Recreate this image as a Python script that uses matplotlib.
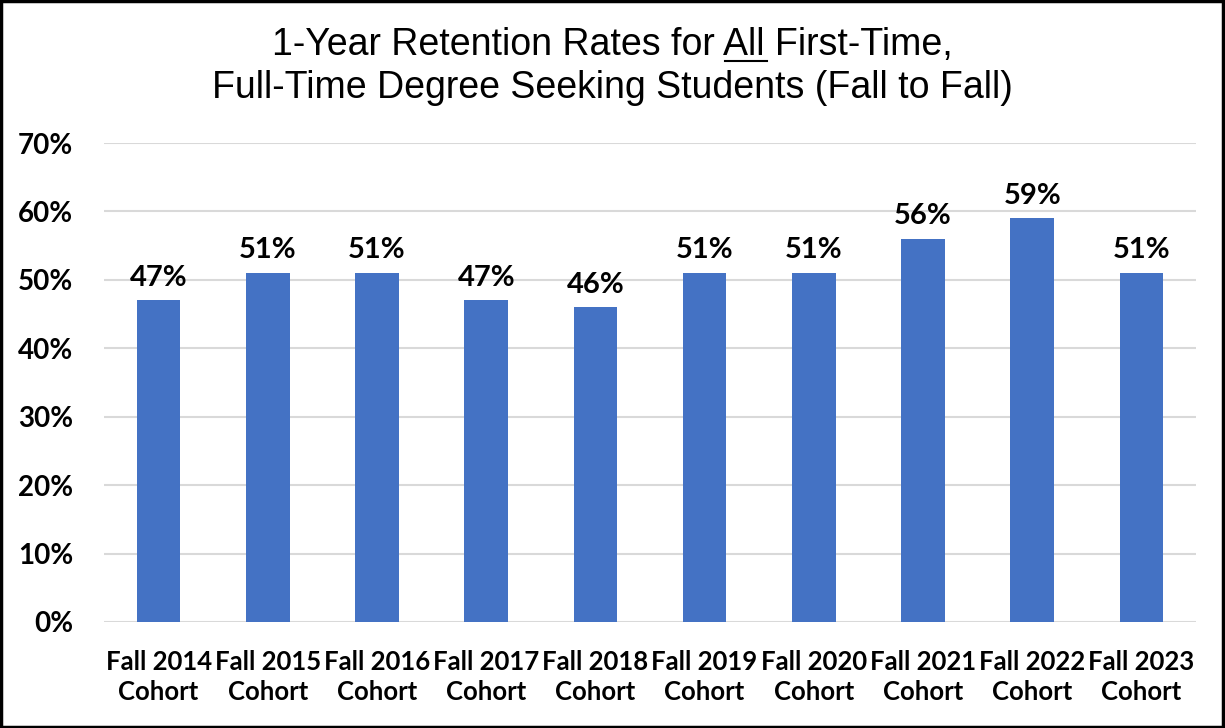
import matplotlib
matplotlib.use('Agg')
import matplotlib.pyplot as plt
from matplotlib.patches import Rectangle

cohorts = ['Fall 2014\nCohort', 'Fall 2015\nCohort', 'Fall 2016\nCohort', 'Fall 2017\nCohort',
           'Fall 2018\nCohort', 'Fall 2019\nCohort', 'Fall 2020\nCohort', 'Fall 2021\nCohort',
           'Fall 2022\nCohort', 'Fall 2023\nCohort']
rates = [47, 51, 51, 47, 46, 51, 51, 56, 59, 51]
yticks = [0, 10, 20, 30, 40, 50, 60, 70]

BAR = '#4472C4'
LABEL_FONT = ['Lato', 'DejaVu Sans']
TITLE_FONT = ['Liberation Sans', 'DejaVu Sans']

fig = plt.figure(figsize=(12.25, 7.28), dpi=100)
ax = fig.add_axes([104 / 1225, 106 / 728, 1092 / 1225, 479 / 728])

x = list(range(len(rates)))
ax.bar(x, rates, width=0.4, color=BAR, zorder=3)
for xi, v in zip(x, rates):
    ax.text(xi, v + 1.4, f'{v}%', ha='center', va='bottom', fontsize=21,
            fontweight='bold', family=LABEL_FONT)

ax.set_xlim(-0.5, len(rates) - 0.5)
ax.set_ylim(0, 70)
ax.set_yticks(yticks)
ax.set_yticklabels([f'{t}%' for t in yticks], fontsize=20, fontweight='bold', family=LABEL_FONT)
ax.set_xticks(x)
ax.set_xticklabels(cohorts, fontsize=18.5, fontweight='bold', family=LABEL_FONT, linespacing=1.3)
ax.tick_params(axis='both', length=0)
ax.tick_params(axis='y', pad=22)
ax.tick_params(axis='x', pad=20)
ax.grid(axis='y', color='#d9d9d9', linewidth=1.5, zorder=0)
for s in ax.spines.values():
    s.set_visible(False)

# title, with "All" underlined
line1 = '1-Year Retention Rates for All First-Time,'
t1 = fig.text(0.5, 1 - 45 / 728, line1, ha='center', va='center', fontsize=27, family=TITLE_FONT)
fig.text(0.5, 1 - 88 / 728, 'Full-Time Degree Seeking Students (Fall to Fall)',
         ha='center', va='center', fontsize=27, family=TITLE_FONT)

fig.canvas.draw()
r = fig.canvas.get_renderer()
full = t1.get_window_extent(r)
tmp = fig.text(0, 0, '1-Year Retention Rates for ', fontsize=27, family=TITLE_FONT)
pre_w = tmp.get_window_extent(r).width
tmp.set_text('All')
all_w = tmp.get_window_extent(r).width
tmp.remove()
x0 = (full.x0 + pre_w) / 1225
x1 = (full.x0 + pre_w + all_w) / 1225
uy = 1 - 61 / 728
fig.add_artist(plt.Line2D([x0, x1], [uy, uy], color='black', linewidth=1.5,
                          transform=fig.transFigure))

fig.add_artist(Rectangle((0.001, 0.001), 0.997, 0.997, transform=fig.transFigure,
                         fill=False, edgecolor='black', linewidth=2.5))

fig.savefig('out.png', dpi=100, facecolor='white')
